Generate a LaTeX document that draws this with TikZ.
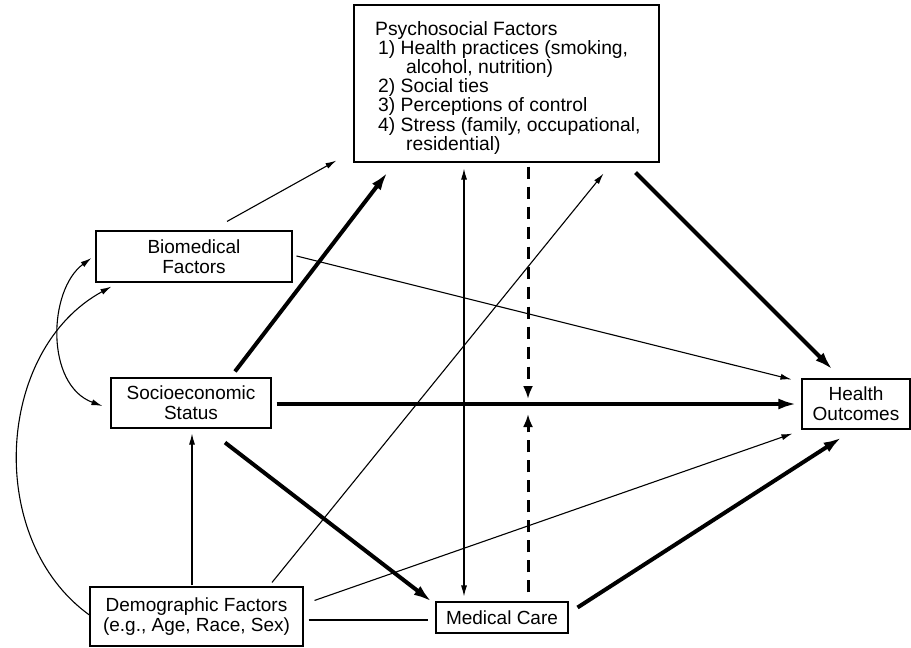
\documentclass[tikz,border=0pt]{standalone}
\usepackage{fontspec}
\setmainfont{Liberation Sans}
\usetikzlibrary{arrows.meta}
\tikzset{
  box/.style={draw, line width=1.1pt, inner sep=0pt, align=center, font=\fontsize{19}{19.8}\selectfont},
  thinarr/.style={line width=1.1pt, -{Latex[length=11pt,width=6pt]}},
  thinboth/.style={line width=1.1pt, {Latex[length=11pt,width=6pt]}-{Latex[length=11pt,width=6pt]}},
  thickarr/.style={line width=4pt, -{Latex[length=18pt,width=11pt]}},
  modarr/.style={line width=3pt, dash pattern=on 12pt off 8pt, -{Latex[length=13pt,width=10pt]}},
  plainline/.style={line width=1.1pt}
}
\begin{document}
\begin{tikzpicture}[x=1pt,y=-1pt]
\useasboundingbox (0,0) rectangle (911,648);
% boxes
\node[box, minimum width=305pt, minimum height=157pt] (psy) at (506.5,83.5) {};
\node[font=\fontsize{19.3}{19.2}\selectfont, align=left, anchor=north west, inner sep=0pt] (psytext) at (375,21)
 {Psychosocial Factors\\
  \hspace*{3pt}1) Health practices (smoking,\\
  \hspace*{31pt}alcohol, nutrition)\\
  \hspace*{3pt}2) Social ties\\
  \hspace*{3pt}3) Perceptions of control\\
  \hspace*{3pt}4) Stress (family, occupational,\\
  \hspace*{31pt}residential)};
\node[box, minimum width=196pt, minimum height=51pt] (bio) at (194,256.5) {Biomedical\\Factors};
\node[box, minimum width=160pt, minimum height=50pt] (ses) at (191,403) {Socioeconomic\\Status};
\node[box, minimum width=108pt, minimum height=50pt] (health) at (856,404) {Health\\Outcomes};
\node[box, minimum width=213pt, minimum height=59pt] (demo) at (196.5,616.5) {Demographic Factors\\(e.g., Age, Race, Sex)};
\node[box, minimum width=132pt, minimum height=31pt] (med) at (502,617.5) {Medical Care};
% moderation points
\coordinate (modtop) at (528,399);
\coordinate (modbot) at (528,414);
% curves on the left
\draw[thinboth] ([shift={(-4,1.5)}]bio.west) .. controls (48,290) and (45,385) .. ([shift={(-8,3)}]ses.west);
\draw[thinarr] ([shift={(0,-1.5)}]demo.west) .. controls (-15,540) and (-5,350) .. ([shift={(16,4)}]bio.south west);
% thin arrows
\draw[thinarr] ([shift={(33,-9)}]bio.north) -- ([shift={(-17,-2)}]psy.south west);
\draw[thinarr] ([shift={(4,-0.5)}]bio.east) -- ([shift={(-10,1)}]health.north west);
\draw[thinarr] ([shift={(75.5,-4)}]demo.north) -- ([shift={(-56,11)}]psy.south east);
\draw[thinarr] ([shift={(11,14)}]demo.north east) -- ([shift={(-9,4)}]health.south west);
\draw[thinarr] ([shift={(-4.5,-1)}]demo.north) -- ([shift={(1,5)}]ses.south);
\draw[plainline] ([shift={(5,3.5)}]demo.east) -- ([shift={(-7,2.5)}]med.west);
\draw[thinboth] ([shift={(-42.5,6)}]psy.south) -- ([shift={(-38,-5)}]med.north);
% thick arrows
\draw[thickarr] ([shift={(44,-6)}]ses.north) -- ([shift={(34,10)}]psy.south west);
\draw[thickarr] ([shift={(-24,10)}]psy.south east) -- ([shift={(31,-9)}]health.north west);
\draw[thickarr] ([shift={(5,1)}]ses.east) -- ([shift={(-5,0)}]health.west);
\draw[thickarr] ([shift={(34,14)}]ses.south) -- ([shift={(-4,0)}]med.north west);
\draw[thickarr] ([shift={(9,-10)}]med.east) -- ([shift={(40,8)}]health.south west);
% dashed moderation arrows
\draw[modarr] ([shift={(21.5,4)}]psy.south) -- (modtop);
\draw[modarr] ([shift={(26,-9)}]med.north) -- (modbot);
\end{tikzpicture}
\end{document}
